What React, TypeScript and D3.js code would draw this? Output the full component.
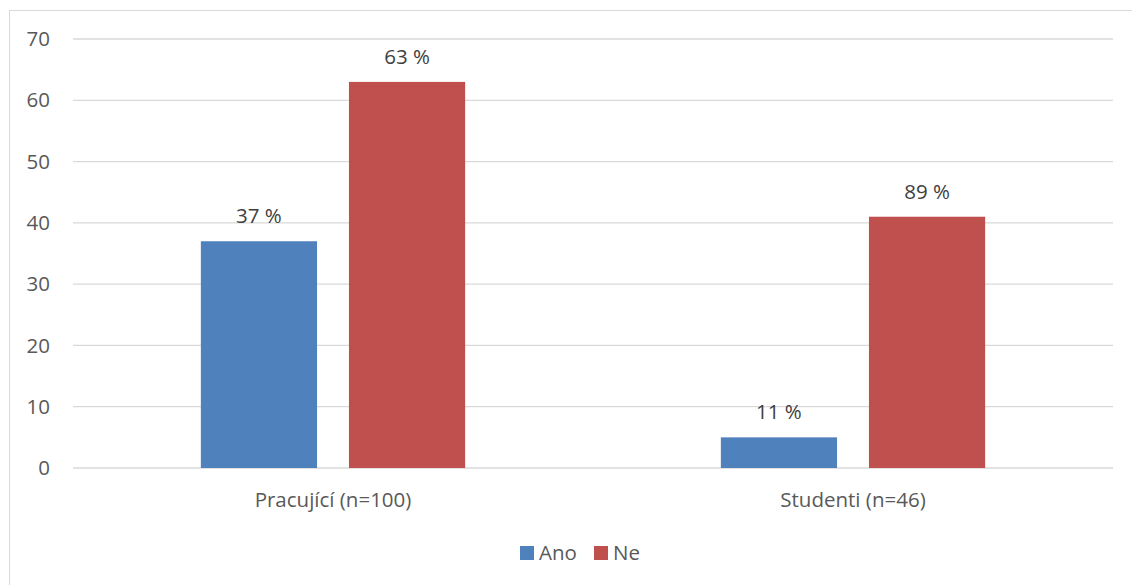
import React from "react";
import * as d3 from "d3";

const categories = ["Pracující (n=100)", "Studenti (n=46)"];
const seriesNames = ["Ano", "Ne"];
const anoValues = [37, 5];
const neValues = [63, 41];
const anoLabels = ["37 %", "11 %"];
const neLabels = ["63 %", "89 %"];
const yTicks = [0, 10, 20, 30, 40, 50, 60, 70];
const colors = ["#4f81bd", "#c0504d"];

const W = 1132;
const H = 585;
const FONT = "'Open Sans', Lato, sans-serif";
const FS = 20.5;

export default function App() {
  const y = d3.scaleLinear().domain([0, 70]).range([468, 39]);
  const x = d3.scaleBand<string>().domain(categories).range([73, 1113]).padding(0);
  const groupW = 264.3;
  const values = [anoValues, neValues];
  const labels = [anoLabels, neLabels];

  return (
    <svg
      width={W}
      height={H}
      style={{ position: "absolute", left: 0, top: 0, background: "#fff" }}
      fontFamily={FONT}
    >
      <rect x={9.5} y={10.5} width={W + 20} height={H + 20} fill="#fff" stroke="#d9d9d9" strokeWidth={1} />
      {yTicks.map((t) => (
        <g key={t}>
          <line x1={73} x2={1113} y1={y(t)} y2={y(t)} stroke="#d9d9d9" strokeWidth={1.3} />
          <text x={50} y={y(t)} dy="0.35em" textAnchor="end" fontSize={FS} fill="#595959">
            {t}
          </text>
        </g>
      ))}
      {categories.map((c, i) => {
        const cx = (x(c) as number) + x.bandwidth() / 2;
        const inner = d3
          .scaleBand<string>()
          .domain(seriesNames)
          .range([cx - groupW / 2, cx + groupW / 2])
          .paddingInner(0.2155)
          .paddingOuter(0);
        return (
          <g key={c}>
            {seriesNames.map((s, j) => {
              const v = values[j][i];
              const bx = inner(s) as number;
              const bw = inner.bandwidth();
              return (
                <g key={s}>
                  <rect x={bx} y={y(v)} width={bw} height={y(0) - y(v)} fill={colors[j]} />
                  <text x={bx + bw / 2} y={y(v) - 18} textAnchor="middle" fontSize={FS} fill="#404040">
                    {labels[j][i]}
                  </text>
                </g>
              );
            })}
            <text x={cx} y={500} dy="0.35em" textAnchor="middle" fontSize={FS} fill="#595959">
              {c}
            </text>
          </g>
        );
      })}
      <g>
        <rect x={520} y={546} width={14} height={14} fill={colors[0]} />
        <text x={539} y={553} dy="0.35em" fontSize={FS} fill="#595959">
          {seriesNames[0]}
        </text>
        <rect x={594} y={546} width={14} height={14} fill={colors[1]} />
        <text x={613} y={553} dy="0.35em" fontSize={FS} fill="#595959">
          {seriesNames[1]}
        </text>
      </g>
    </svg>
  );
}
